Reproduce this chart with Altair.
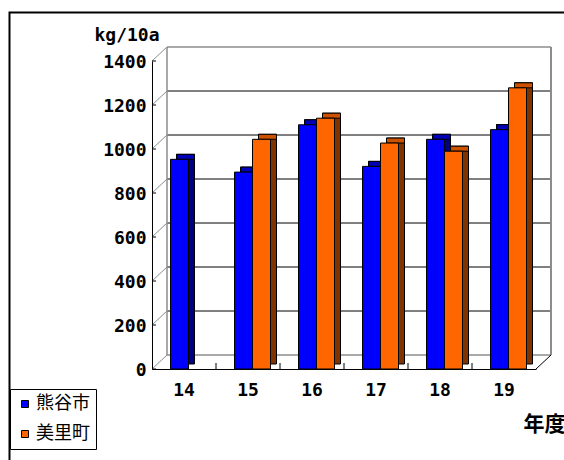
import altair as alt
import pandas as pd

# ---- data ----
years = ["14", "15", "16", "17", "18", "19"]
kumagaya = [953, 895, 1110, 921, 1044, 1088]
misato = [None, 1044, 1140, 1027, 990, 1278]
series_names = ["熊谷市", "美里町"]
y_ticks = [0, 200, 400, 600, 800, 1000, 1200, 1400]
y_axis_title = "kg/10a"
x_axis_title = "年度"

# ---- styles ----
front_colors = ["#0000FF", "#FF6600"]
top_colors = ["#0000B8", "#CC5200"]
side_colors = ["#000080", "#7F3300"]
MONO = "DejaVu Sans Mono"
CJK = "Noto Sans CJK JP"
W, H = 384, 308
DX, DY = 15, 14          # wall depth
BDX, BDY = 6, 5          # bar depth
BAR_W = 18
bar_offsets = [-4.5, 13.5]
GRAY = "#8c8c8c"

rows = []
for i, yr in enumerate(years):
    for s, vals in zip(series_names, [kumagaya, misato]):
        if vals[i] is not None:
            rows.append({"year": yr, "series": s, "value": vals[i]})
df = pd.DataFrame(rows)
ticks_df = pd.DataFrame({"v": y_ticks})
grid_df = pd.DataFrame({"v": y_ticks[1:-1]})
border_df = pd.DataFrame({"v": [y_ticks[0], y_ticks[-1]]})
edge_df = pd.DataFrame({"v": [y_ticks[0]], "hi": [y_ticks[-1]]})
zero_df = pd.DataFrame({"v": [y_ticks[0]]})
bound_df = pd.DataFrame({"year": years[1:]})
one_df = pd.DataFrame({"d": [0]})

xscale = alt.Scale(type="band", domain=years, paddingInner=0, paddingOuter=0)
yscale = alt.Scale(domain=[y_ticks[0], y_ticks[-1]], nice=False, zero=True)

x_axis = alt.Axis(
    zindex=2,
    labelAngle=0, ticks=False, domain=True, domainColor="black", domainWidth=1,
    labelFont=MONO, labelFontWeight="bold", labelFontSize=18, labelColor="black",
    labelPadding=12,
    titleX=371, titleY=55, titleAlign="left", titleBaseline="middle",
    titleFont=CJK, titleFontWeight="bold", titleFontSize=21, titleColor="black",
)
y_axis = alt.Axis(
    zindex=2, format="d",
    values=y_ticks, grid=False, ticks=False, domain=True, domainColor="black",
    domainWidth=1, labelFont=MONO, labelFontWeight="bold", labelFontSize=18,
    labelColor="black", labelPadding=6, labelOffset=1.5,
    titleAngle=0, titleX=-58, titleY=-21, titleAlign="left",
    titleBaseline="alphabetic", titleFont=MONO, titleFontSize=18,
    titleFontWeight="bold", titleColor="black",
)


def X(field="year:N", **kw):
    return alt.X(field, scale=xscale, axis=x_axis, title=x_axis_title, **kw)


def Y(field):
    return alt.Y(field, scale=yscale, axis=y_axis, title=y_axis_title)


# outer frame (stroke only)
frame = alt.Chart(one_df).mark_rect(
    filled=False, fill="transparent", stroke="black", strokeWidth=2
).encode(x=alt.value(-142.5), x2=alt.value(700), y=alt.value(-48.5), y2=alt.value(700))

# back wall gridlines and borders
grid = alt.Chart(grid_df).mark_rule(color="black", strokeWidth=1, yOffset=-DY).encode(
    y=Y("v:Q"), x=alt.value(DX), x2=alt.value(W + DX)
)
wall_hz = alt.Chart(border_df).mark_rule(color=GRAY, strokeWidth=1.5, yOffset=-DY).encode(
    y=Y("v:Q"), x=alt.value(DX), x2=alt.value(W + DX)
)
wall_left = alt.Chart(edge_df).mark_rule(
    color=GRAY, strokeWidth=1.5, yOffset=-DY, y2Offset=-DY
).encode(x=alt.value(DX), y=Y("v:Q"), y2="hi:Q")
wall_right = alt.Chart(edge_df).mark_rule(
    color=GRAY, strokeWidth=2, yOffset=-DY, y2Offset=-DY
).encode(x=alt.value(W + DX), y=Y("v:Q"), y2="hi:Q")

# diagonals from front axis to back wall
diag = alt.Chart(ticks_df).mark_rule(color=GRAY, strokeWidth=1, y2Offset=-DY).encode(
    x=alt.value(0), x2=alt.value(DX), y=Y("v:Q"), y2="v:Q",
)
diag_right = alt.Chart(zero_df).mark_rule(color="black", strokeWidth=1, y2Offset=-DY).encode(
    x=alt.value(W), x2=alt.value(W + DX), y=Y("v:Q"), y2="v:Q",
)
# inward ticks on the front value axis
front_ticks = alt.Chart(ticks_df).mark_rule(color="black", strokeWidth=1).encode(
    y=Y("v:Q"), x=alt.value(0), x2=alt.value(4)
)
# floor ticks at category boundaries
floor_ticks = alt.Chart(bound_df).mark_rule(color="black", strokeWidth=1).encode(
    x=X(bandPosition=0), y=alt.value(H - 6), y2=alt.value(H),
)

color_enc = alt.Color(
    "series:N",
    scale=alt.Scale(domain=series_names, range=front_colors),
    legend=alt.Legend(
        orient="none", legendX=-142, legendY=328, title=None,
        fillColor="white", strokeColor="black", padding=6,
        symbolType="square", symbolSize=49, symbolStrokeColor="black",
        symbolStrokeWidth=1, symbolOpacity=1,
        labelFont=CJK, labelFontSize=18, labelColor="black",
        labelOffset=2, rowPadding=12,
    ),
)

bar_layers = []
for k, s in enumerate(series_names):
    base = alt.Chart(df).transform_filter(alt.datum.series == s)
    off = bar_offsets[k]
    side = base.mark_bar(
        width=BAR_W, xOffset=off + BDX, yOffset=-BDY, y2Offset=-BDY,
        fill=side_colors[k], stroke="black", strokeWidth=1,
    ).encode(x=X(), y=Y("value:Q"))
    top = base.mark_bar(
        width=BAR_W, xOffset=off + BDX, yOffset=-BDY, y2Offset=0,
        fill=top_colors[k], stroke="black", strokeWidth=1,
    ).encode(x=X(), y=Y("value:Q"), y2="value:Q")
    front = base.mark_bar(
        width=BAR_W, xOffset=off, stroke="black", strokeWidth=1, opacity=1,
    ).encode(x=X(), y=Y("value:Q"), color=color_enc)
    bar_layers += [side, top, front]

chart = alt.layer(
    frame, grid, wall_hz, wall_left, wall_right, diag, diag_right,
    floor_ticks, *bar_layers, front_ticks,
).properties(
    width=W, height=H,
    padding={"left": 152, "top": 61, "right": 564 - 152 - W, "bottom": 460 - 61 - H},
    autosize=alt.AutoSizeParams(type="none"),
    background="white",
).configure_view(stroke=None)

chart.save("out.html", embed_options={"renderer": "svg", "actions": False})
